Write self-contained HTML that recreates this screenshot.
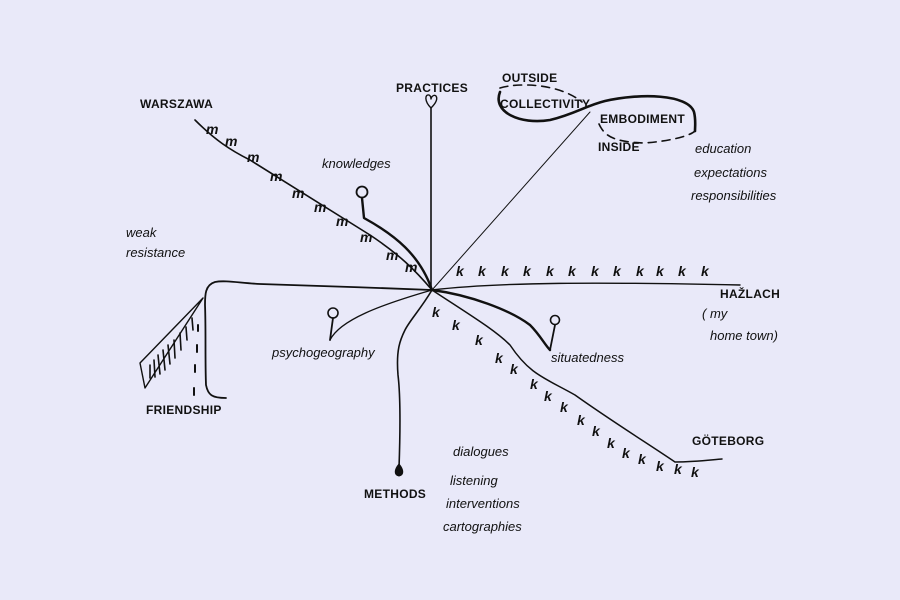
<!DOCTYPE html>
<html><head><meta charset="utf-8"><style>
html,body{margin:0;padding:0;background:#e9e9f9;}
svg{display:block}
text{font-family:"Liberation Sans",sans-serif;fill:#111;}
.h{font-style:italic;font-size:13px;}
.c{font-size:12px;letter-spacing:0.3px;font-weight:bold;}
</style></head><body>
<svg width="900" height="600" viewBox="0 0 900 600" xmlns="http://www.w3.org/2000/svg">
<rect width="900" height="600" fill="#e9e9f9"/>
<g fill="none" stroke="#111" stroke-linecap="round" stroke-linejoin="round">
<path d="M195,120 C215,140 230,150 250,160 C290,185 330,210 370,235 C400,255 415,270 432,290" stroke-width="1.6"/>
<circle cx="362" cy="192" r="5.5" stroke-width="1.8"/>
<path d="M362,198 L364,218 C395,235 420,255 432,290" stroke-width="2.4"/>
<path d="M431,108 L431,290" stroke-width="1.6"/>
<path d="M431,108 C424,101 425,94 429,95 C431,96 431,98 431,99 C431,97 434,94 436,96 C438,99 436,103 431,108Z" stroke-width="1.4"/>
<path d="M432,290 L590,112" stroke-width="1"/>
<path d="M500,92 C492,112 520,125 550,120 C575,114 585,106 605,101 C640,93 688,94 694,112 C696,120 695,126 695,131" stroke-width="2.6"/>
<path d="M500,88 C520,82 560,84 582,102" stroke-width="1.6" stroke-dasharray="8,6"/>
<path d="M599,124 C605,137 615,142 645,143 C670,141 690,136 695,131" stroke-width="1.6" stroke-dasharray="8,6"/>
<path d="M432,290 C500,282 600,282 740,285" stroke-width="1.4"/>
<circle cx="555" cy="320" r="4.5" stroke-width="1.6"/>
<path d="M555,325 L550,350" stroke-width="1.8"/>
<path d="M432,290 C470,295 510,310 530,325 C540,335 545,345 550,350" stroke-width="2.4"/>
<path d="M432,290 C470,315 495,330 510,345 C530,375 545,378 575,395 C610,420 650,445 675,462 C695,462 710,460 722,459" stroke-width="1.5"/>
<path d="M432,290 C380,288 300,285 260,284 C240,283 225,280 215,282 C205,285 205,295 205,305 C206,330 205,360 206,385 C208,395 212,398 226,398" stroke-width="1.8"/>
<path d="M203,298 L140,363 L145,388 Z" stroke-width="1.4"/>
<path d="M150,378 L150,365 M155,377 L154,360 M160,374 L158,355 M165,370 L163,350 M170,364 L168,345 M175,358 L174,340 M181,350 L180,333 M187,340 L186,327 M193,330 L192,318" stroke-width="1.6"/>
<path d="M198,325 l0,6 M197,345 l0,7 M195,365 l0,7 M194,388 l0,7" stroke-width="2"/>
<circle cx="333" cy="313" r="5" stroke-width="1.6"/>
<path d="M333,318 L330,340" stroke-width="1.8"/>
<path d="M330,340 C340,320 380,305 432,290" stroke-width="1.3"/>
<path d="M432,290 C420,310 410,320 405,330 C400,340 396,350 398,375 C401,400 400,440 399,468" stroke-width="1.6"/>
<path d="M399,464 C394,470 394,475 399,476 C404,475 404,470 399,464Z" fill="#111" stroke-width="1"/>
</g>
<g font-family="Liberation Serif,serif" font-style="italic" font-weight="bold" font-size="14" fill="#111">
<text x="206" y="134">m</text><text x="225" y="146">m</text><text x="247" y="162">m</text><text x="270" y="181">m</text><text x="292" y="198">m</text><text x="314" y="212">m</text><text x="336" y="226">m</text><text x="360" y="242">m</text><text x="386" y="260">m</text><text x="405" y="272">m</text>
</g>
<g font-family="Liberation Sans,sans-serif" font-style="italic" font-weight="bold" font-size="14" fill="#111">
<text x="456" y="276">k</text><text x="478" y="276">k</text><text x="501" y="276">k</text><text x="523" y="276">k</text><text x="546" y="276">k</text><text x="568" y="276">k</text><text x="591" y="276">k</text><text x="613" y="276">k</text><text x="636" y="276">k</text><text x="656" y="276">k</text><text x="678" y="276">k</text><text x="701" y="276">k</text>
<text x="432" y="317">k</text><text x="452" y="330">k</text><text x="475" y="345">k</text><text x="495" y="363">k</text><text x="510" y="374">k</text><text x="530" y="389">k</text><text x="544" y="401">k</text><text x="560" y="412">k</text><text x="577" y="425">k</text><text x="592" y="436">k</text><text x="607" y="448">k</text><text x="622" y="458">k</text><text x="638" y="464">k</text><text x="656" y="471">k</text><text x="674" y="474">k</text><text x="691" y="477">k</text>
</g>
<text class="c" x="140" y="108">WARSZAWA</text>
<text class="c" x="396" y="92">PRACTICES</text>
<text class="c" x="502" y="82" font-size="11">OUTSIDE</text>
<text class="c" x="500" y="108" font-size="10">COLLECTIVITY</text>
<text class="c" x="600" y="123" font-size="11">EMBODIMENT</text>
<text class="c" x="598" y="151" font-size="11">INSIDE</text>
<text class="h" x="695" y="153">education</text>
<text class="h" x="694" y="177">expectations</text>
<text class="h" x="691" y="200">responsibilities</text>
<text class="h" x="322" y="168">knowledges</text>
<text class="h" x="126" y="237">weak</text>
<text class="h" x="126" y="257">resistance</text>
<text class="c" x="720" y="298">HAŽLACH</text>
<text class="h" x="702" y="318">( my</text>
<text class="h" x="710" y="340">home town)</text>
<text class="h" x="272" y="357">psychogeography</text>
<text class="h" x="551" y="362">situatedness</text>
<text class="c" x="146" y="414">FRIENDSHIP</text>
<text class="c" x="692" y="445">GÖTEBORG</text>
<text class="c" x="364" y="498">METHODS</text>
<text class="h" x="453" y="456">dialogues</text>
<text class="h" x="450" y="485">listening</text>
<text class="h" x="446" y="508">interventions</text>
<text class="h" x="443" y="531">cartographies</text>
</svg>
</body></html>
